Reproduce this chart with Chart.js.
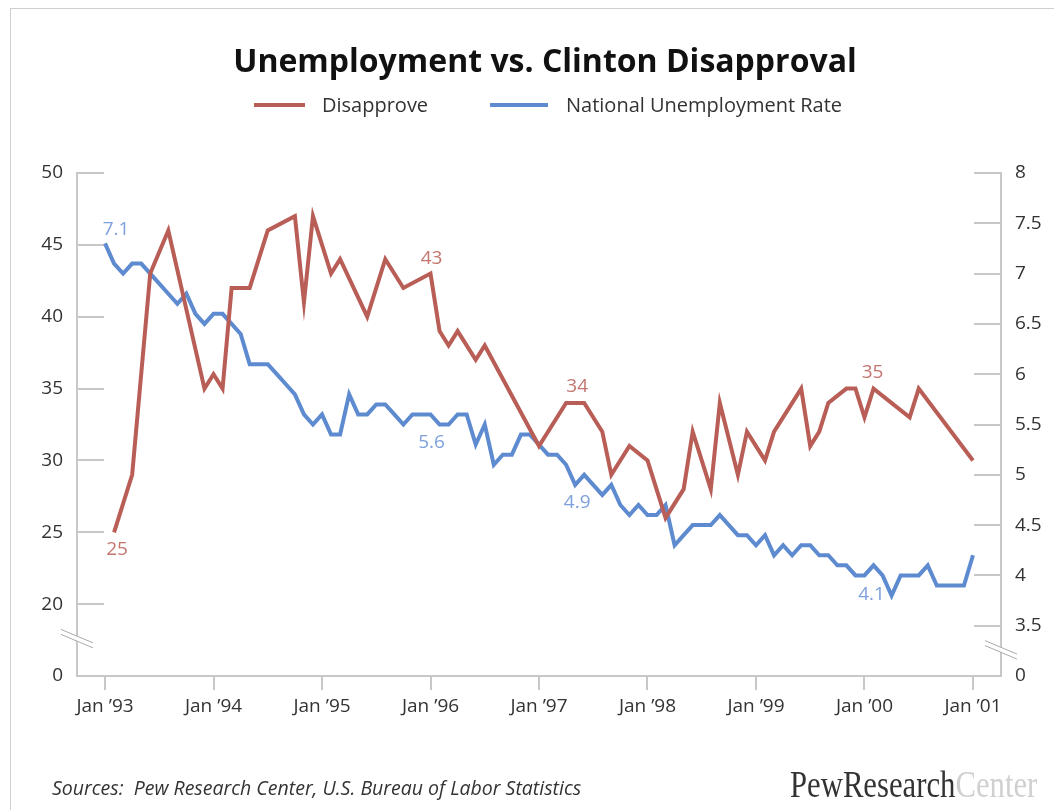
<!DOCTYPE html>
<html>
<head>
<meta charset="utf-8">
<title>Unemployment vs. Clinton Disapproval</title>
<script src="https://cdn.jsdelivr.net/npm/chart.js@4.4.1/dist/chart.umd.min.js"></script>
<style>
  html, body { margin: 0; padding: 0; background: #fff; }
  body { width: 1054px; height: 810px; position: relative; overflow: hidden; font-family: 'Open Sans', sans-serif; color: #333; }
  #frame { position: absolute; left: 10px; top: 8px; width: 1100px; height: 900px; border: 1px solid #cfcfcf; }
  #chart { position: absolute; left: 0; top: 0; }
  #title { position: absolute; left: 0; top: 38px; width: 1090px; text-align: center; font-size: 32px; font-weight: 700; color: #111; }
  .legend { position: absolute; top: 93px; font-size: 20px; line-height: 24px; }
  .swatch { position: absolute; top: 10px; height: 4px; }
  #source { position: absolute; left: 52px; top: 774px; font-size: 19.5px; font-style: italic; }
  #logo { position: absolute; left: 790px; top: 763px; font-family: 'Liberation Serif', serif; font-size: 37px; transform: scaleX(0.83); transform-origin: left top; white-space: nowrap; }
  #logo .dim { color: #d0d0d0; }
</style>
</head>
<body>
<div id="frame"></div>
<canvas id="chart" width="1054" height="810"></canvas>
<div id="title">Unemployment vs. Clinton Disapproval</div>
<div class="legend" style="left:254px;"><span class="swatch" style="left:0;width:51px;background:#b95e57;"></span><span style="margin-left:68px;">Disapprove</span></div>
<div class="legend" style="left:490px;"><span class="swatch" style="left:0;width:58px;background:#5e8bd0;"></span><span style="margin-left:76px;">National Unemployment Rate</span></div>
<div id="source">Sources:&nbsp; Pew Research Center, U.S. Bureau of Labor Statistics</div>
<div id="logo">PewResearch<span class="dim">Center</span></div>
<script>
// monthly national unemployment rate (%), Jan 1993 - Jan 2001
const unemploymentStart = '1993-01'
const unemploymentRate = [
  7.3, 7.1, 7.0, 7.1, 7.1, 7.0, 6.9, 6.8, 6.7, 6.8, 6.6, 6.5,
  6.6, 6.6, 6.5, 6.4, 6.1, 6.1, 6.1, 6.0, 5.9, 5.8, 5.6, 5.5,
  5.6, 5.4, 5.4, 5.8, 5.6, 5.6, 5.7, 5.7, 5.6, 5.5, 5.6, 5.6,
  5.6, 5.5, 5.5, 5.6, 5.6, 5.3, 5.5, 5.1, 5.2, 5.2, 5.4, 5.4,
  5.3, 5.2, 5.2, 5.1, 4.9, 5.0, 4.9, 4.8, 4.9, 4.7, 4.6, 4.7,
  4.6, 4.6, 4.7, 4.3, 4.4, 4.5, 4.5, 4.5, 4.6, 4.5, 4.4, 4.4,
  4.3, 4.4, 4.2, 4.3, 4.2, 4.3, 4.3, 4.2, 4.2, 4.1, 4.1, 4.0,
  4.0, 4.1, 4.0, 3.8, 4.0, 4.0, 4.0, 4.1, 3.9, 3.9, 3.9, 3.9,
  4.2,
]

// Clinton job disapproval (%), by poll month
const disapproveMonths = [
  '1993-02', '1993-04', '1993-06', '1993-08', '1993-12',
  '1994-01', '1994-02', '1994-03', '1994-05', '1994-07', '1994-10', '1994-11', '1994-12',
  '1995-02', '1995-03', '1995-06', '1995-08', '1995-10',
  '1996-01', '1996-02', '1996-03', '1996-04', '1996-06', '1996-07',
  '1997-01', '1997-04', '1997-05', '1997-06', '1997-08', '1997-09', '1997-11',
  '1998-01', '1998-03', '1998-05', '1998-06', '1998-08', '1998-09', '1998-11', '1998-12',
  '1999-02', '1999-03', '1999-06', '1999-07', '1999-08', '1999-09', '1999-11', '1999-12',
  '2000-01', '2000-02', '2000-06', '2000-07', '2001-01',
]
const disapproveValues = [
  25, 29, 43, 46, 35,
  36, 35, 42, 42, 46, 47, 41, 47,
  43, 44, 40, 44, 42,
  43, 39, 38, 39, 37, 38,
  31, 34, 34, 34, 32, 29, 31,
  30, 26, 28, 32, 28, 34, 29, 32,
  30, 32, 35, 31, 32, 34, 35, 35,
  33, 35, 33, 35, 30,
]

const xTickMonths = ['1993-01', '1994-01', '1995-01', '1996-01', '1997-01', '1998-01', '1999-01', '2000-01', '2001-01']
const xTickLabels = ['Jan ’93', 'Jan ’94', 'Jan ’95', 'Jan ’96', 'Jan ’97', 'Jan ’98', 'Jan ’99', 'Jan ’00', 'Jan ’01']

// months whose values get printed next to the lines
const labelledMonths = ['1993-02', '1996-01', '1997-05', '2000-02']

const RED = '#b95e57'
const BLUE = '#5e8bd0'
const AXIS = '#c8c8c8'
const FONT = "'Open Sans', sans-serif"

// months since Jan 1993
function monthIndex(s) {
  const [y, m] = s.split('-').map(Number)
  return (y - 1993) * 12 + (m - 1)
}

const startIdx = monthIndex(unemploymentStart)
const unemploymentPoints = unemploymentRate.map((v, i) => ({ x: startIdx + i, y: v }))
const disapprovePoints = disapproveValues.map((v, i) => ({ x: monthIndex(disapproveMonths[i]), y: v }))

// where each printed value sits relative to its point
const labelOffsets = [
  [{ dx: 3, dy: 17 }, { dx: 1, dy: -15 }, { dx: 2, dy: -16 }, { dx: -1, dy: -16 }],
  [{ dx: 2, dy: -34 }, { dx: 1, dy: 28 }, { dx: 2, dy: 18 }, { dx: -2, dy: 29 }],
]
const labelColors = ['#c3756e', '#7da1dc']

// short tick marks drawn inward from each value axis
const innerTicks = {
  id: 'innerTicks',
  beforeDatasetsDraw(chart) {
    const ctx = chart.ctx
    ctx.save()
    ctx.strokeStyle = AXIS
    ctx.lineWidth = 2
    ;[['y', 1], ['y1', -1]].forEach(([id, dir]) => {
      const s = chart.scales[id]
      const x0 = dir > 0 ? s.right : s.left
      s.ticks.forEach((t) => {
        if (t.value === s.min) return
        const y = Math.round(s.getPixelForValue(t.value))
        ctx.beginPath()
        ctx.moveTo(x0, y)
        ctx.lineTo(x0 + dir * 27, y)
        ctx.stroke()
      })
    })
    ctx.restore()
  },
  afterDraw(chart) {
    // axis break marks between the lowest two ticks
    const ctx = chart.ctx
    const marks = [
      [chart.scales.y.right, chart.scales.y.getPixelForValue(17.6)],
      [chart.scales.y1.left, chart.scales.y1.getPixelForValue(3.26)],
    ]
    ctx.save()
    marks.forEach(([cx, cy]) => {
      const hw = 16, slope = 0.42, gap = 5
      ctx.fillStyle = '#fff'
      ctx.beginPath()
      ctx.moveTo(cx - 3, cy - 3 * slope - gap / 2)
      ctx.lineTo(cx + 3, cy + 3 * slope - gap / 2)
      ctx.lineTo(cx + 3, cy + 3 * slope + gap / 2)
      ctx.lineTo(cx - 3, cy - 3 * slope + gap / 2)
      ctx.closePath()
      ctx.fill()
      ctx.strokeStyle = '#aaa'
      ctx.lineWidth = 1
      ;[-gap / 2, gap / 2].forEach((o) => {
        ctx.beginPath()
        ctx.moveTo(cx - hw, cy - hw * slope + o)
        ctx.lineTo(cx + hw, cy + hw * slope + o)
        ctx.stroke()
      })
    })
    ctx.restore()
  },
}

// printed values at a few months of each series
const valueLabels = {
  id: 'valueLabels',
  afterDatasetsDraw(chart) {
    const ctx = chart.ctx
    ctx.save()
    ctx.font = '19px ' + FONT
    ctx.textAlign = 'center'
    ctx.textBaseline = 'middle'
    chart.data.datasets.forEach((ds, di) => {
      const meta = chart.getDatasetMeta(di)
      labelledMonths.forEach((m, li) => {
        const idx = ds.data.findIndex((p) => p.x === monthIndex(m))
        if (idx < 0) return
        const pt = meta.data[idx]
        const v = ds.data[idx].y
        const off = labelOffsets[di][li]
        ctx.fillStyle = labelColors[di]
        ctx.fillText(di === 1 ? v.toFixed(1) : String(v), pt.x + off.dx, pt.y + off.dy)
      })
    })
    ctx.restore()
  },
}

const tickFont = { family: FONT, size: 19 }

new Chart(document.getElementById('chart'), {
  type: 'line',
  data: {
    datasets: [
      {
        label: 'Disapprove',
        data: disapprovePoints,
        borderColor: RED,
        borderWidth: 4,
        pointRadius: 0,
        yAxisID: 'y',
      },
      {
        label: 'National Unemployment Rate',
        data: unemploymentPoints,
        borderColor: BLUE,
        borderWidth: 4,
        pointRadius: 0,
        yAxisID: 'y1',
      },
    ],
  },
  options: {
    responsive: false,
    animation: false,
    layout: { padding: { top: 173, left: 0, right: 0, bottom: 0 } },
    plugins: { legend: { display: false }, title: { display: false }, tooltip: { enabled: false } },
    scales: {
      x: {
        type: 'linear',
        min: -3.1,
        max: 99.1,
        afterBuildTicks: (s) => { s.ticks = xTickMonths.map((m) => ({ value: monthIndex(m) })) },
        afterFit: (s) => { s.height = 134 },
        ticks: {
          font: tickFont,
          color: '#333',
          padding: 5,
          maxRotation: 0,
          autoSkip: false,
          callback: (v) => xTickLabels[xTickMonths.findIndex((m) => monthIndex(m) === v)],
        },
        grid: { drawOnChartArea: false, color: AXIS, lineWidth: 2, tickLength: 14 },
        border: { color: AXIS, width: 2 },
      },
      y: {
        position: 'left',
        min: 15,
        max: 50,
        ticks: { stepSize: 5, font: tickFont, color: '#333', padding: 14, callback: (v) => (v === 15 ? '0' : String(v)) },
        afterFit: (s) => { s.width = 77 },
        grid: { display: false, drawTicks: false },
        border: { color: AXIS, width: 2 },
      },
      y1: {
        position: 'right',
        min: 3,
        max: 8,
        ticks: { stepSize: 0.5, font: tickFont, color: '#333', padding: 14, callback: (v) => (v === 3 ? '0' : String(v)) },
        afterFit: (s) => { s.width = 53 },
        grid: { display: false, drawTicks: false },
        border: { color: AXIS, width: 2 },
      },
    },
  },
  plugins: [innerTicks, valueLabels],
})
</script>
</body>
</html>
